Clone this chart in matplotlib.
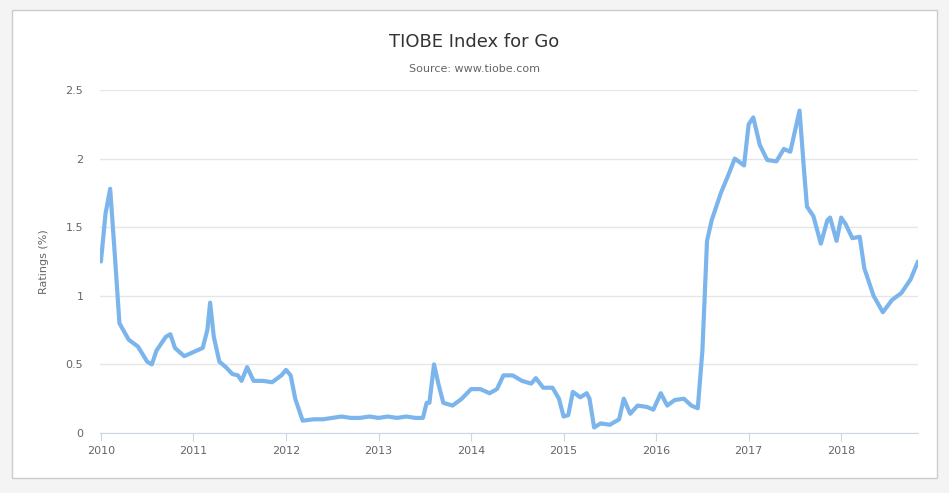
import matplotlib.pyplot as plt
from matplotlib.patches import Rectangle

years = [2010.0, 2010.05, 2010.1, 2010.15, 2010.2, 2010.3, 2010.4, 2010.5, 2010.55, 2010.6, 2010.7, 2010.75,
         2010.8, 2010.9, 2011.0, 2011.1, 2011.15, 2011.18, 2011.22, 2011.28, 2011.35, 2011.42, 2011.48, 2011.52,
         2011.58, 2011.65, 2011.75, 2011.85, 2011.95, 2012.0, 2012.05, 2012.1, 2012.18, 2012.3, 2012.4, 2012.5,
         2012.6, 2012.7, 2012.8, 2012.9, 2013.0, 2013.1, 2013.2, 2013.3, 2013.4, 2013.48, 2013.52, 2013.55,
         2013.6, 2013.65, 2013.7, 2013.8, 2013.9, 2014.0, 2014.1, 2014.2, 2014.28, 2014.35, 2014.45, 2014.55,
         2014.65, 2014.7, 2014.78, 2014.88, 2014.95, 2015.0, 2015.05, 2015.1, 2015.18, 2015.25, 2015.28, 2015.33,
         2015.4, 2015.5, 2015.6, 2015.65, 2015.72, 2015.8, 2015.9, 2015.97, 2016.05, 2016.12, 2016.2, 2016.3,
         2016.38, 2016.45, 2016.5, 2016.55, 2016.6, 2016.7, 2016.78, 2016.85, 2016.95, 2017.0, 2017.05, 2017.12,
         2017.2, 2017.3, 2017.38, 2017.45, 2017.5, 2017.55, 2017.6, 2017.63, 2017.7, 2017.78, 2017.85, 2017.88,
         2017.95, 2018.0, 2018.05, 2018.12, 2018.2, 2018.25, 2018.35, 2018.45, 2018.55, 2018.65, 2018.75, 2018.83]
ratings = [1.25, 1.6, 1.78, 1.3, 0.8, 0.68, 0.63, 0.52, 0.5, 0.6, 0.7, 0.72,
           0.62, 0.56, 0.59, 0.62, 0.75, 0.95, 0.7, 0.52, 0.48, 0.43, 0.42, 0.38,
           0.48, 0.38, 0.38, 0.37, 0.42, 0.46, 0.42, 0.25, 0.09, 0.1, 0.1, 0.11,
           0.12, 0.11, 0.11, 0.12, 0.11, 0.12, 0.11, 0.12, 0.11, 0.11, 0.22, 0.22,
           0.5, 0.35, 0.22, 0.2, 0.25, 0.32, 0.32, 0.29, 0.32, 0.42, 0.42, 0.38,
           0.36, 0.4, 0.33, 0.33, 0.25, 0.12, 0.13, 0.3, 0.26, 0.29, 0.25, 0.04,
           0.07, 0.06, 0.1, 0.25, 0.14, 0.2, 0.19, 0.17, 0.29, 0.2, 0.24, 0.25,
           0.2, 0.18, 0.6, 1.4, 1.55, 1.75, 1.88, 2.0, 1.95, 2.25, 2.3, 2.1,
           1.99, 1.98, 2.07, 2.05, 2.2, 2.35, 1.9, 1.65, 1.58, 1.38, 1.55, 1.57,
           1.4, 1.57, 1.52, 1.42, 1.43, 1.2, 1.0, 0.88, 0.97, 1.02, 1.12, 1.25]
xticks = list(range(2010, 2019))
yticks = [0, 0.5, 1, 1.5, 2, 2.5]
ytick_labels = ["0", "0.5", "1", "1.5", "2", "2.5"]

fig = plt.figure(figsize=(9.49, 4.93), dpi=100, facecolor="#f4f4f4")
panel = Rectangle((12 / 949, 1 - 478 / 493), 925 / 949, 468 / 493, transform=fig.transFigure,
                  facecolor="white", edgecolor="#cccccc", lw=1, zorder=-10)
fig.add_artist(panel)
ax = fig.add_axes([100 / 949, 1 - 433 / 493, 818 / 949, 343 / 493])
ax.set_zorder(5)
ax.set_facecolor("none")
ax.plot(years, ratings, color="#7cb5ec", lw=3, solid_joinstyle="round", solid_capstyle="round")
ax.set_xlim(2009.99, 2018.83)
ax.set_ylim(0, 2.5)
ax.set_xticks(xticks)
ax.set_xticklabels([str(y) for y in xticks])
ax.set_yticks(yticks)
ax.set_yticklabels(ytick_labels)
ax.grid(axis="y", color="#e6e6e6", lw=1)
ax.set_axisbelow(True)
for s in ["top", "right", "left"]:
    ax.spines[s].set_visible(False)
ax.spines["bottom"].set_color("#ccd6eb")
ax.tick_params(axis="y", length=0, labelsize=8, colors="#666666", pad=12)
ax.tick_params(axis="x", length=6, color="#ccd6eb", labelsize=8, labelcolor="#666666")
ax.set_ylabel("Ratings (%)", fontsize=8, color="#666666", labelpad=12)

fig.text(0.5, 1 - 42 / 493, "TIOBE Index for Go", ha="center", va="center", fontsize=13, color="#333333")
fig.text(0.5, 1 - 69 / 493, "Source: www.tiobe.com", ha="center", va="center", fontsize=8, color="#666666")

fig.savefig("out.png", dpi=100, facecolor=fig.get_facecolor())
